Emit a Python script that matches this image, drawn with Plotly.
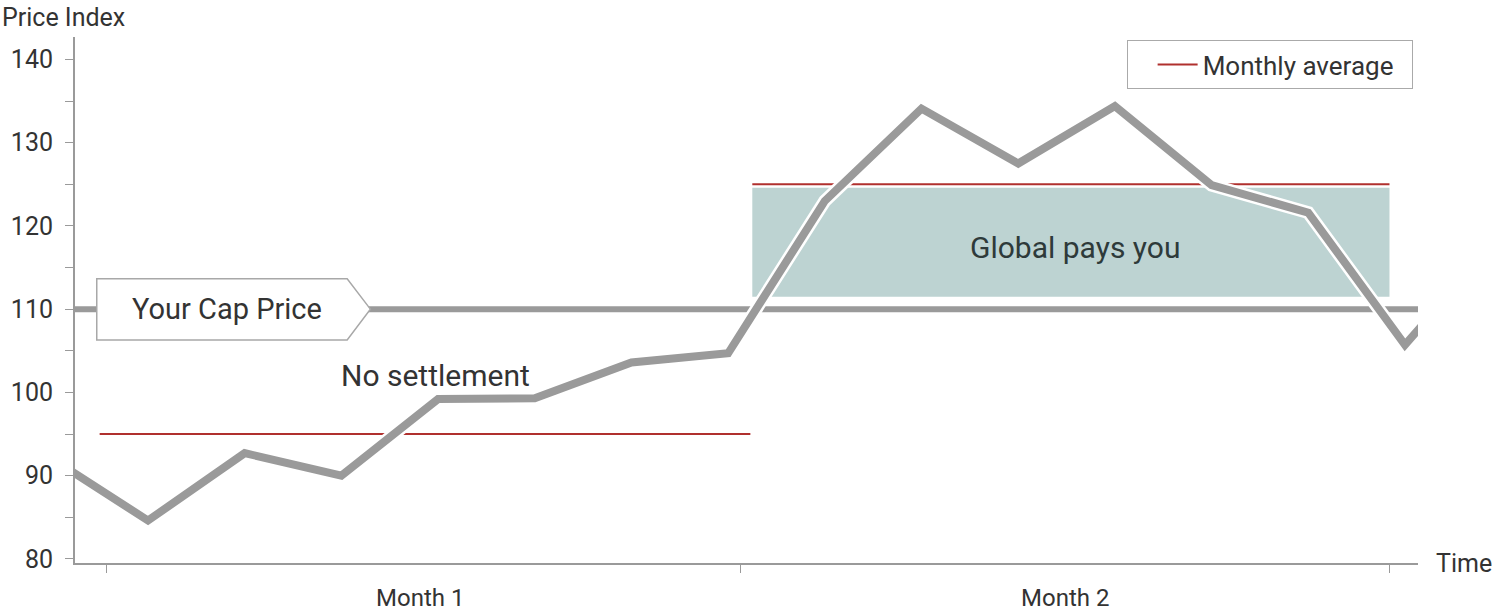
import plotly.graph_objects as go

# ---- data ----
price_x = list(range(16))
price_y = [92.1, 84.6, 92.7, 90.0, 99.2, 99.3, 103.6, 104.7, 123.0, 134.1, 127.5, 134.4, 124.9, 121.6, 105.7, 119.0]

cap_price = 110
month_labels = ["Month 1", "Month 2"]
month_start = [0.50, 7.25]
month_end = [7.23, 13.84]
month_avg = [95, 125]
month_ticks = [0.566, 7.13, 13.84]
month_label_x = [3.81, 10.48]

pay_box_x = [7.25, 13.84]
pay_box_y = [111.5, 124.6]

y_ticks = [80, 90, 100, 110, 120, 130, 140]

x_range = [0.245, 14.135]
y_range = [79.5, 142.7]

FONT = "Roboto"
TXT = "#333333"
GRAY = "#9a9a9a"
RED = "#b0302e"

fig = go.Figure()

# Monthly average lines
for i in range(len(month_avg)):
    fig.add_trace(go.Scatter(
        x=[month_start[i], month_end[i]], y=[month_avg[i], month_avg[i]],
        mode="lines", line=dict(color=RED, width=2),
        name="Monthly average\u00a0\u00a0", showlegend=(i == 0), hoverinfo="skip"))

# Cap price line
fig.add_trace(go.Scatter(
    x=[x_range[0], x_range[1]], y=[cap_price, cap_price], mode="lines",
    line=dict(color=GRAY, width=6), showlegend=False, hoverinfo="skip"))

# Price line with white halo
fig.add_trace(go.Scatter(x=price_x, y=price_y, mode="lines",
                         line=dict(color="white", width=13), showlegend=False, hoverinfo="skip"))
fig.add_trace(go.Scatter(x=price_x, y=price_y, mode="lines",
                         line=dict(color=GRAY, width=8), showlegend=False, hoverinfo="skip"))

# Shaded "Global pays you" box
fig.add_shape(type="rect", xref="x", yref="y", layer="below",
              x0=pay_box_x[0], x1=pay_box_x[1], y0=pay_box_y[0], y1=pay_box_y[1],
              fillcolor="#bdd3d2", line=dict(width=0))

# Cap price pentagon label
lx0, lx1, ltip = 0.47, 3.06, 3.30
ly0, ly1 = 106.3, 113.65
path = (f"M {lx0},{ly0} L {lx0},{ly1} L {lx1},{ly1} L {ltip},{cap_price} "
        f"L {lx1},{ly0} Z")
fig.add_shape(type="path", xref="x", yref="y", path=path, layer="above",
              fillcolor="white", line=dict(color="#a8a8a8", width=1.5))

fig.add_annotation(x=1.82, y=cap_price, xref="x", yref="y",
                   text="Your Cap Price", showarrow=False,
                   font=dict(family=FONT, size=29, color=TXT))
fig.add_annotation(x=3.97, y=102.0, xref="x", yref="y", text="No settlement",
                   showarrow=False, font=dict(family=FONT, size=30, color=TXT))
fig.add_annotation(x=10.59, y=117.4, xref="x", yref="y", text="Global pays you",
                   showarrow=False, font=dict(family=FONT, size=30, color="#2e3a3a"))

# Month labels
for xv, lab in zip(month_label_x, month_labels):
    fig.add_annotation(x=xv, y=-35 / 526, xref="x", yref="paper", text=lab,
                       showarrow=False, yanchor="middle",
                       font=dict(family=FONT, size=24, color=TXT))

# Axis titles
fig.add_annotation(x=-75 / 1343, y=1 + 19 / 526, xref="paper", yref="paper",
                   text="Price Index", xanchor="left", yanchor="middle",
                   showarrow=False, font=dict(family=FONT, size=25, color=TXT))
fig.add_annotation(x=1 + 16 / 1343, y=0, xref="paper", yref="paper", text="Time",
                   xanchor="left", yanchor="middle", showarrow=False,
                   font=dict(family=FONT, size=25, color=TXT))

fig.update_layout(
    width=1500, height=611,
    margin=dict(l=75, r=82, t=37, b=48),
    paper_bgcolor="white", plot_bgcolor="white",
    font=dict(family=FONT, color=TXT),
    legend=dict(x=0.996, y=0.994, xanchor="right", yanchor="top",
                bgcolor="white", bordercolor="#aaaaaa", borderwidth=1,
                indentation=25, itemwidth=40,
                font=dict(family=FONT, size=26, color=TXT)),
    xaxis=dict(range=x_range, showgrid=False, zeroline=False,
               showline=True, linecolor=GRAY, linewidth=2,
               tickvals=month_ticks, ticktext=["", "", ""],
               ticks="outside", ticklen=8, tickcolor=GRAY, tickwidth=1),
    yaxis=dict(range=y_range, showgrid=False, zeroline=False,
               showline=True, linecolor=GRAY, linewidth=2,
               tickvals=y_ticks, ticks="outside", ticklen=8, tickcolor=GRAY,
               tickwidth=1, ticklabelstandoff=7,
               tickfont=dict(family=FONT, size=25, color=TXT),
               minor=dict(dtick=5, tick0=80, ticks="outside", ticklen=8,
                          tickcolor=GRAY, tickwidth=1)),
)

fig.write_html("out.html")
